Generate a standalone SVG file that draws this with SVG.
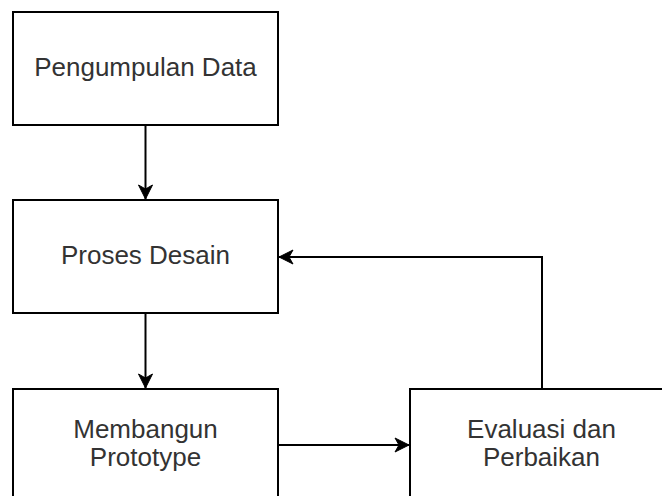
<svg xmlns="http://www.w3.org/2000/svg" width="662" height="496" viewBox="0 0 662 496">
<style>
.box{fill:#fff;stroke:#000;stroke-width:2}
.lbl{font-family:"Liberation Sans",Arial,sans-serif;font-size:26px;fill:#333;text-anchor:middle}
.edge{fill:none;stroke:#000;stroke-width:2}
</style>
<defs>
<marker id="arr" viewBox="0 0 16 16" refX="15" refY="8" markerWidth="16" markerHeight="16" markerUnits="userSpaceOnUse" orient="auto">
<path d="M15,8 L1,1 L5,8 L1,15 Z" fill="#000" stroke="#000" stroke-width="1"/>
</marker>
</defs>
<rect width="662" height="496" fill="#fff"/>
<g id="connectors">
<path class="edge" d="M145.5,125 L145.5,199" marker-end="url(#arr)"/>
<path class="edge" d="M145.5,313 L145.5,388" marker-end="url(#arr)"/>
<path class="edge" d="M278,445 L409,445" marker-end="url(#arr)"/>
<path class="edge" d="M542,389 L542,257 L279,257" marker-end="url(#arr)"/>
</g>
<g id="n1">
<rect class="box" x="13" y="12" width="265" height="113"/>
<text class="lbl" x="145.5" y="76">Pengumpulan Data</text>
</g>
<g id="n2">
<rect class="box" x="13" y="200" width="265" height="113"/>
<text class="lbl" x="145.5" y="263.5">Proses Desain</text>
</g>
<g id="n3">
<rect class="box" x="13" y="389" width="265" height="113"/>
<text class="lbl" x="145.5" y="438">Membangun</text>
<text class="lbl" x="145.5" y="465.5">Prototype</text>
</g>
<g id="n4">
<rect class="box" x="410" y="389" width="265" height="113"/>
<text class="lbl" x="541.5" y="438">Evaluasi dan</text>
<text class="lbl" x="541.5" y="465.5">Perbaikan</text>
</g>
</svg>
